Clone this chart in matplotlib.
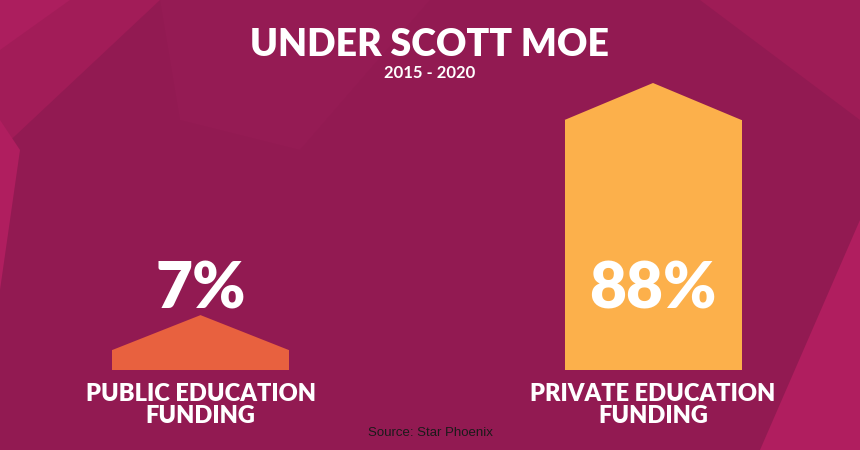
import matplotlib
matplotlib.use("Agg")
import matplotlib.pyplot as plt
from matplotlib.patches import Polygon

categories = ["PUBLIC EDUCATION\nFUNDING", "PRIVATE EDUCATION\nFUNDING"]
values = [7, 88]
value_labels = ["7%", "88%"]
colors = ["#E8613F", "#FCB04B"]
title = "UNDER SCOTT MOE"
subtitle = "2015 - 2020"
source = "Source: Star Phoenix"

fig = plt.figure(figsize=(8.6, 4.5), dpi=100)
ax = fig.add_axes([0, 0, 1, 1])
ax.set_xlim(0, 860); ax.set_ylim(0, 450); ax.axis("off")
fig.patch.set_facecolor("#921A52")
ax.set_facecolor("#921A52")

# background facets
for pts, c in [
    ([(0, 450), (160, 450), (0, 300)], "#A21C58"),
    ([(0, 160), (20, 300), (0, 330)], "#B01E5F"),
    ([(0, 450), (70, 450), (0, 400)], "#AC1E5E"),
    ([(860, 0), (760, 0), (860, 230)], "#B01E5F"),
    ([(700, 450), (860, 450), (860, 330)], "#9E1C56"),
    ([(160, 450), (430, 450), (300, 300), (180, 330)], "#951B54"),
]:
    ax.add_patch(Polygon(pts, closed=True, fc=c, ec="none", zorder=0))

centers = [200.5, 653]
width = 177
base = 80
scale = 250 / 88
tri_h = [35, 37]
heights = [v * scale for v in values]
ax.bar(centers, heights, width=width, bottom=base, color=colors, zorder=2)
for cx, h, th, c in zip(centers, heights, tri_h, colors):
    top = base + h
    ax.add_patch(Polygon([(cx - width / 2, top), (cx, top + th), (cx + width / 2, top)],
                         closed=True, fc=c, ec="none", zorder=2))

fam = ["Lato", "DejaVu Sans"]
for cx, lab, cat in zip(centers, value_labels, categories):
    ax.text(cx, 160, lab, ha="center", va="center", color="white", fontsize=46,
            fontweight="heavy", family=fam, zorder=3)
    ax.text(cx, 45, cat, ha="center", va="center", color="white", fontsize=17,
            fontweight="heavy", family=fam, linespacing=0.95, zorder=3)

ax.text(430, 405, title, ha="center", va="center", color="white", fontsize=27,
        fontweight="heavy", family=fam)
ax.text(430, 377, subtitle, ha="center", va="center", color="white", fontsize=12,
        fontweight="bold", family=fam)
ax.text(430, 17, source, ha="center", va="center", color="#1a1a1a", fontsize=9.5,
        family=["Liberation Sans", "DejaVu Sans"])

fig.savefig("out.png", dpi=100, facecolor=fig.get_facecolor())
